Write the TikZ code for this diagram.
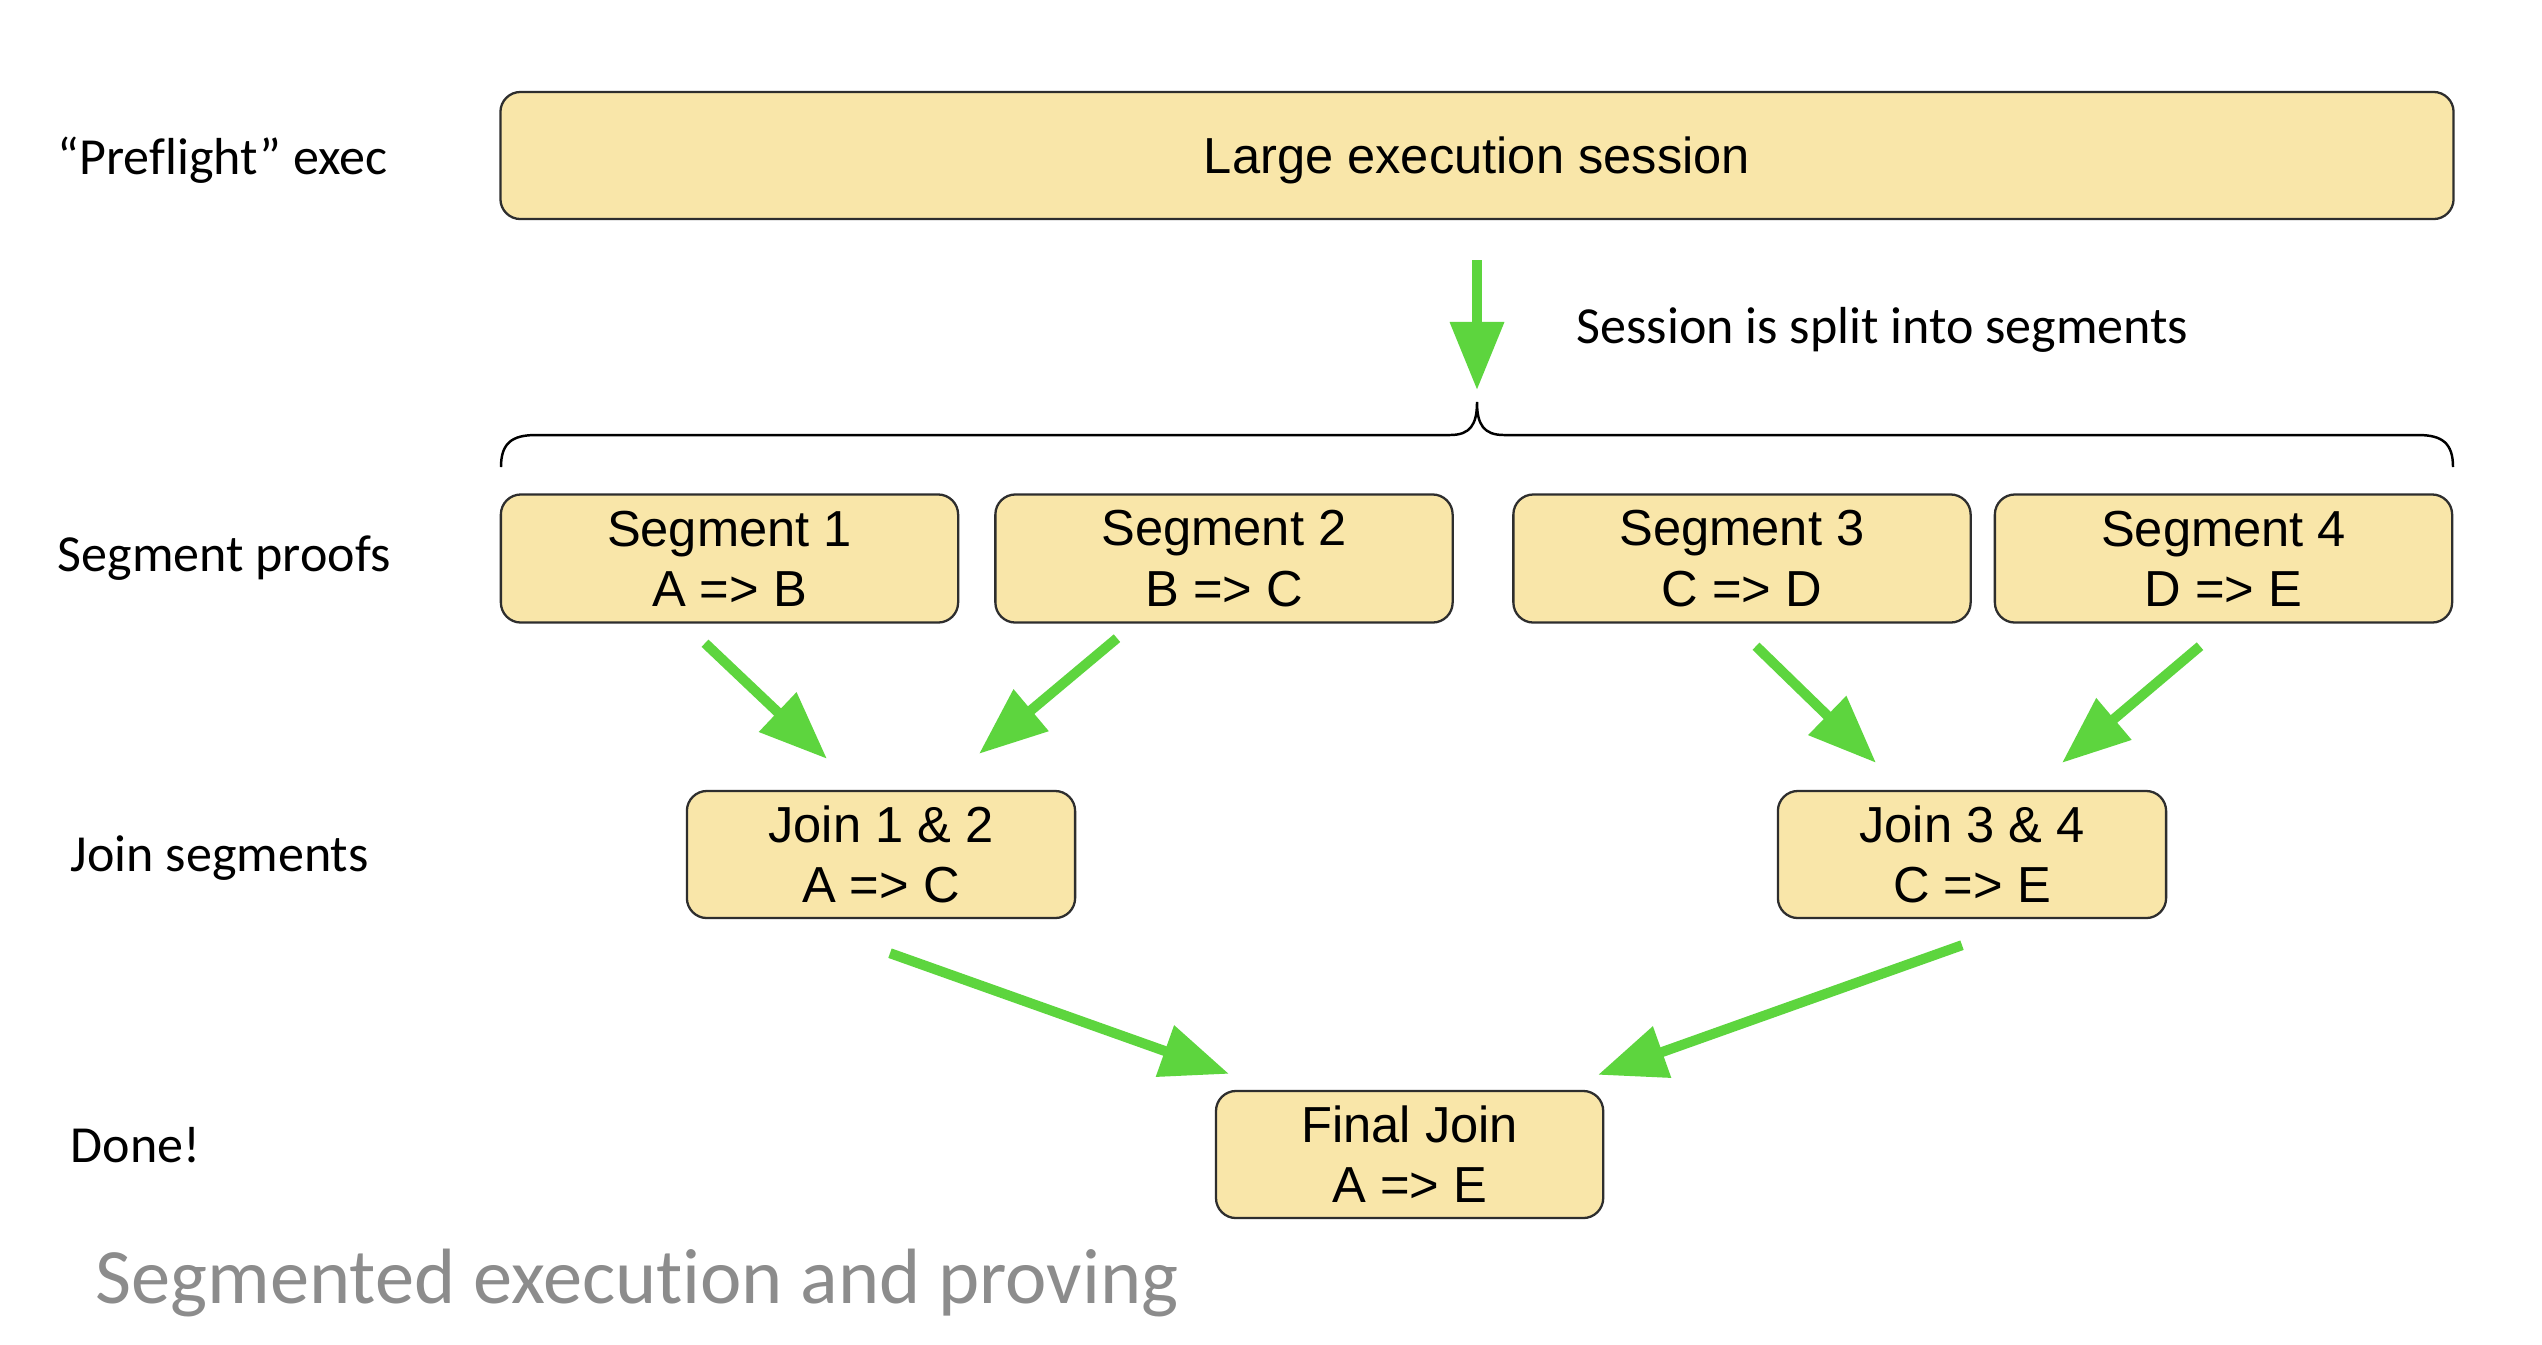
\documentclass[tikz,border=0pt]{standalone}
\usepackage{fontspec}
\setmainfont{Liberation Sans}
\newfontfamily\calfont[Ligatures={NoCommon,NoDiscretionary}]{Carlito}
\usetikzlibrary{arrows.meta}
\definecolor{boxfill}{HTML}{F9E6A9}
\definecolor{boxline}{HTML}{2E2E2E}
\definecolor{arrgreen}{HTML}{5DD53E}
\definecolor{titlegray}{HTML}{8C8C8C}
\tikzset{
  box/.style={draw=boxline, line width=0.65pt, fill=boxfill, rounded corners=0.2cm,
    inner sep=0pt, align=center, text=black,
    font=\fontsize{14.4}{17.1}\selectfont},
  arr/.style={draw=arrgreen, line width=2.85pt,
    -{Triangle[length=6.8mm, width=5.2mm]}},
  lab/.style={anchor=base west, inner sep=0pt, font=\calfont\fontsize{14.8}{17}\selectfont},
}
\begin{document}
\begin{tikzpicture}[x=0.01cm, y=-0.01cm]
\useasboundingbox[fill=white] (0,0) rectangle (2542,1344);

% boxes
\node[box, minimum width=19.52cm, minimum height=1.27cm, text depth=0pt] (big) at (1477,155.5) {Large execution session};
\node[box, minimum width=4.57cm, minimum height=1.28cm] (s1) at (729.5,558.5) {Segment 1\\A => B};
\node[box, minimum width=4.57cm, minimum height=1.28cm] (s2) at (1224,558.5) {Segment 2\\B => C};
\node[box, minimum width=4.57cm, minimum height=1.28cm] (s3) at (1742,558.5) {Segment 3\\C => D};
\node[box, minimum width=4.57cm, minimum height=1.28cm] (s4) at (2223.5,558.5) {Segment 4\\D => E};
\node[box, minimum width=3.88cm, minimum height=1.27cm] (j12) at (881,854.5) {Join 1 \& 2\\A => C};
\node[box, minimum width=3.88cm, minimum height=1.27cm] (j34) at (1972,854.5) {Join 3 \& 4\\C => E};
\node[box, minimum width=3.87cm, minimum height=1.27cm] (fin) at (1409.6,1154.5) {Final Join\\A => E};

% left labels
\node[lab] (l1) at (57,174) {“Preflight” exec};
\node[lab] (l2) at (57,571) {Segment proofs};
\node[lab] (l3) at (70,871) {Join segments};
\node[lab] (l4) at (70,1162) {Done!};
\node[lab] (l5) at (1576,343) {Session is split into segments};
\node[anchor=base west, inner sep=0pt, text=titlegray, font=\calfont\fontsize{22.3}{26}\selectfont] (title) at (95,1303) {Segmented execution and proving};

% brace
\coordinate (bt) at (1477,402);
\draw[line width=0.7pt, black] (501,467) .. controls (501,443) and (512,435) .. (536,435) -- (1450,435)
  .. controls (1470,435) and (1477,425) .. (bt)
  .. controls (1477,425) and (1484,435) .. (1504,435) -- (2418,435)
  .. controls (2442,435) and (2453,443) .. (2453,467);

% arrows
\draw[arr] ([shift={(0,40)}]big.south) -- ([shift={(0,-12)}]bt);
\draw[arr] ([shift={(-24.5,19.5)}]s1.south) -- ([shift={(-54,-31)}]j12.north);
\draw[arr] ([shift={(-107,14.5)}]s2.south) -- ([shift={(98,-36)}]j12.north);
\draw[arr] ([shift={(14,22.5)}]s3.south) -- ([shift={(-96,-27)}]j34.north);
\draw[arr] ([shift={(-23.5,22.5)}]s4.south) -- ([shift={(90,-27)}]j34.north);
\draw[arr] ([shift={(9,34)}]j12.south) -- ([shift={(-180.6,-16)}]fin.north);
\draw[arr] ([shift={(-10,26)}]j34.south) -- ([shift={(188.4,-15)}]fin.north);
\end{tikzpicture}
\end{document}
